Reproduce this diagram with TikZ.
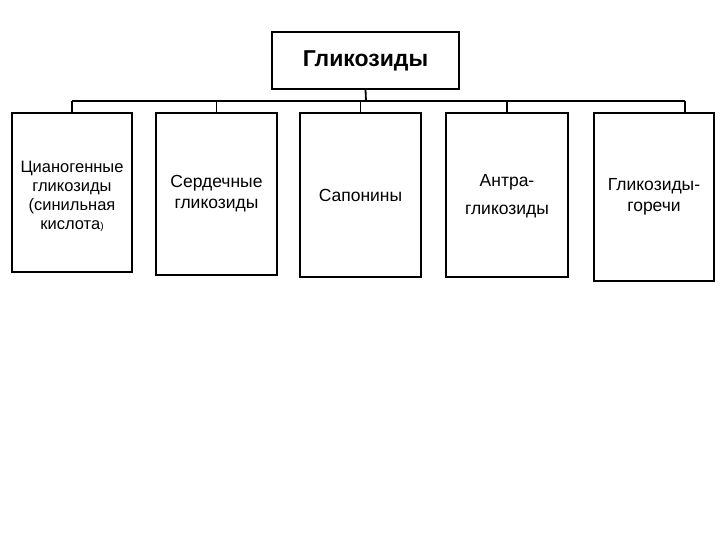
\documentclass[tikz,border=0pt]{standalone}
\usepackage{fontspec}
\setmainfont{Liberation Sans}
\begin{document}
\begin{tikzpicture}[x=1pt,y=-1pt,
  bx/.style={draw,line width=1.6pt,align=center,font=\fontsize{17.5}{21}\selectfont},
  ln/.style={line width=1.8pt}]
\useasboundingbox (0,0) rectangle (720,540);
\fill[white] (0,0) rectangle (720,540);
\node[bx,minimum width=187pt,minimum height=57pt,font=\bfseries\fontsize{23}{27}\selectfont] (t) at (365.5,60.5) {Гликозиды};
\node[bx,minimum width=120pt,minimum height=159pt] (b1) at (72,192.5) {};
\node[align=center,font=\fontsize{16.5}{19}\selectfont] (l1) at (72,196) {Цианогенные\\гликозиды\\(синильная\\кислота{\fontsize{10}{12}\selectfont)}};
\node[bx,minimum width=121pt,minimum height=162pt] (b2) at (216.5,194) {Сердечные\\гликозиды};
\node[bx,minimum width=121pt,minimum height=164pt] (b3) at (360.5,195) {Сапонины};
\node[bx,minimum width=122pt,minimum height=164pt] (b4) at (507,195) {};
\node[align=center,font=\fontsize{17.5}{21}\selectfont] (l4) at (507,182) {Антра-};
\node[align=center,font=\fontsize{17.5}{21}\selectfont] (l4b) at (507,212) {гликозиды};
\node[bx,minimum width=120pt,minimum height=168pt] (b5) at (654,197) {Гликозиды-\\горечи};
\coordinate (bus) at (366,101);
\draw[ln] (t.south) -- (bus);
\draw[ln] (72,101) -- (685,101);
\draw[ln] (72,101) -- (b1.north);
\draw[ln] (216.5,101) -- (b2.north);
\draw[ln] (360.5,101) -- (b3.north);
\draw[ln] (507,101) -- (b4.north);
\draw[ln] (685,101) -- (685,113);
\end{tikzpicture}
\end{document}
